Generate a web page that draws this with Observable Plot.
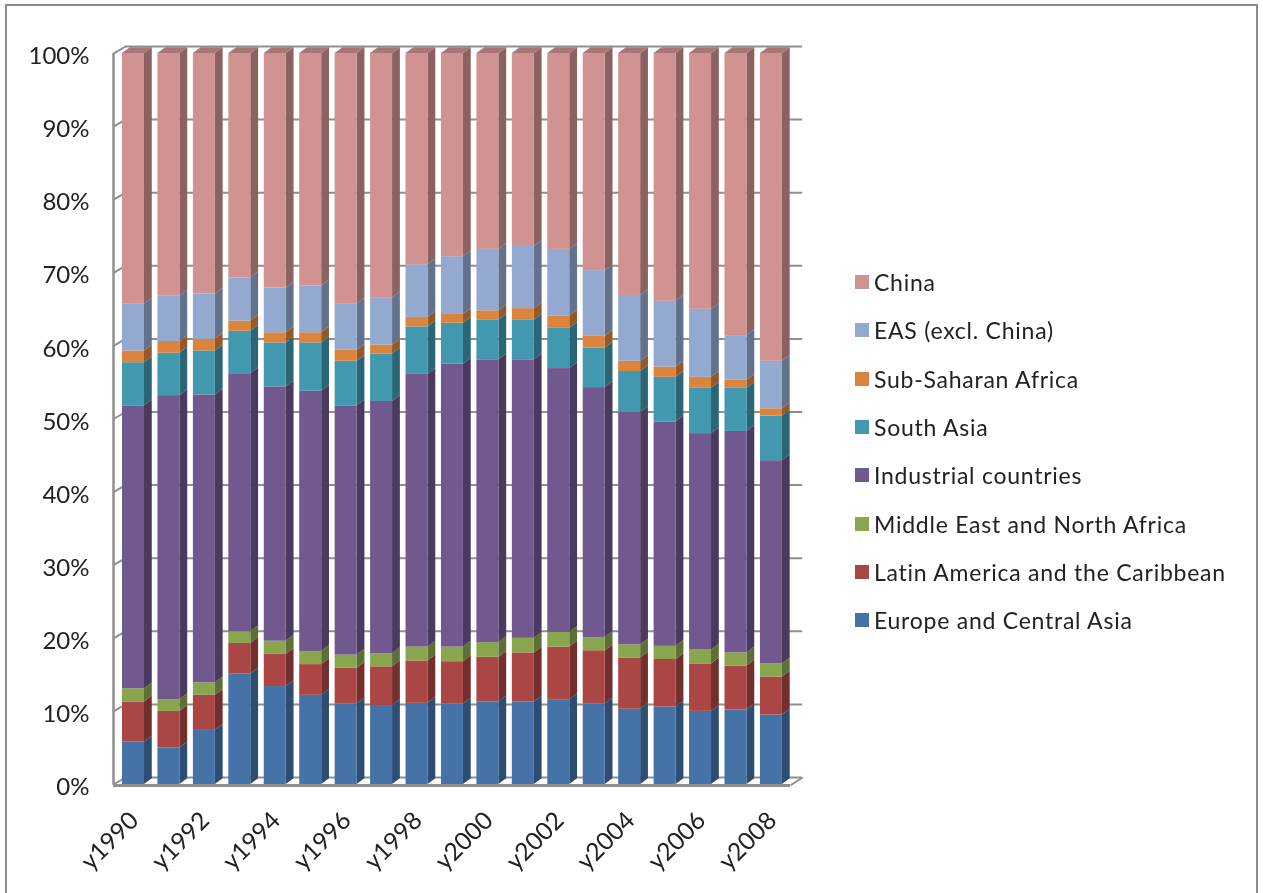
<!DOCTYPE html>
<html><head><meta charset="utf-8">
<script src="https://cdn.jsdelivr.net/npm/d3@7"></script>
<script src="https://cdn.jsdelivr.net/npm/@observablehq/plot@0.6"></script>
<style>
html,body{margin:0;padding:0;background:#fff;}
#page{position:relative;width:1263px;height:893px;overflow:hidden;font-family:Lato,sans-serif;color:#222;filter:blur(0.5px);}
#frame{position:absolute;left:5px;top:4px;width:1249px;height:920px;border:2.5px solid #8c8c8c;box-sizing:content-box;}
#chart{position:absolute;left:0;top:0;}
#chart svg{display:block;background:transparent;}
#legend{position:absolute;left:855px;top:258px;}
.row{display:flex;align-items:center;height:48.3px;font-size:23px;letter-spacing:0.75px;white-space:nowrap;}
.sw{width:14px;height:14px;margin-right:5px;flex:none;}
</style></head><body>
<div id="page"><div id="frame"></div><div id="chart"></div><div id="legend"></div></div>
<script>
const years = ["y1990","y1991","y1992","y1993","y1994","y1995","y1996","y1997","y1998","y1999","y2000","y2001","y2002","y2003","y2004","y2005","y2006","y2007","y2008"];
const yTicks = [0,10,20,30,40,50,60,70,80,90,100];
const seriesNames = ["Europe and Central Asia","Latin America and the Caribbean","Middle East and North Africa","Industrial countries","South Asia","Sub-Saharan Africa","EAS (excl. China)","China"];
const europe     = [5.8,5.0,7.4,15.1,13.4,12.2,11.0,10.8,11.1,11.0,11.3,11.3,11.6,11.0,10.3,10.6,10.0,10.2,9.5];
const latin      = [5.5,5.0,4.8,4.2,4.4,4.2,4.9,5.3,5.8,5.8,6.1,6.7,7.2,7.3,7.0,6.5,6.5,6.0,5.2];
const mena       = [1.8,1.6,1.7,1.6,1.8,1.8,1.8,1.8,1.9,2.0,2.0,2.0,2.0,1.8,1.8,1.8,1.9,1.8,1.8];
const industrial = [38.7,41.6,39.4,35.3,34.8,35.6,34.1,34.5,37.3,38.7,38.7,38.1,36.1,34.2,31.8,30.7,29.6,30.3,27.8];
const southAsia  = [5.9,5.8,6.0,5.8,6.0,6.6,6.1,6.5,6.5,5.6,5.4,5.4,5.5,5.4,5.6,6.1,6.2,5.9,6.1];
const ssa        = [1.6,1.6,1.6,1.4,1.4,1.4,1.5,1.2,1.3,1.2,1.3,1.6,1.7,1.6,1.4,1.4,1.5,1.1,1.0];
const eas        = [6.4,6.2,6.2,5.9,6.1,6.4,6.3,6.5,7.2,7.9,8.4,8.5,9.1,9.0,9.0,9.0,9.3,6.1,6.5];
const china      = [34.3,33.2,32.9,30.7,32.1,31.8,34.3,33.4,28.9,27.8,26.8,26.4,26.8,29.7,33.1,33.9,35.0,38.6,42.1];
const seriesValues = [europe,latin,mena,industrial,southAsia,ssa,eas,china];
const frontColors = ["#4572a7","#aa4643","#89a54e","#71588f","#4198af","#db843d","#93a9cf","#d19392"];
const sideColors  = ["#2e4d72","#722f2e","#5c6f35","#4b3a60","#2b6676","#945829","#63728c","#8b6261"];
const topColor = "#a87675";
const gridColor = "#8f8f8f";

const halfW = 0.31, barDx = 0.22, barDy = 0.8;   // bar width and 3-D depth in scale units
const wallDx = 0.34, wallDy = 0.96;
const xMin = -0.564, xFront = 18.54;

const marks = [];
// walls
marks.push(Plot.ruleY(yTicks,{y:d=>d+wallDy,x1:xMin+wallDx,x2:xFront+wallDx,stroke:gridColor,strokeWidth:2}));
marks.push(Plot.link(yTicks,{x1:xMin,x2:xMin+wallDx,y1:d=>d,y2:d=>d+wallDy,stroke:gridColor,strokeWidth:2}));
marks.push(Plot.ruleX([xMin],{y1:-0.1,y2:100,stroke:gridColor,strokeWidth:2.5}));
marks.push(Plot.ruleY([-0.15],{x1:xMin,x2:xFront,stroke:gridColor,strokeWidth:3}));
marks.push(Plot.link([0],{x1:xFront,x2:xFront+wallDx,y1:-0.1,y2:wallDy,stroke:gridColor,strokeWidth:2}));
// bars
const cum = years.map(()=>0);
seriesValues.forEach((vals,s)=>{
  const rows = vals.map((v,i)=>{const y1=cum[i];cum[i]+=v;return {i,y1,y2:cum[i]};});
  const side = rows.flatMap(r=>[
    {i:r.i,x:r.i+halfW,y1:r.y1,y2:r.y2},
    {i:r.i,x:r.i+halfW+barDx,y1:r.y1+barDy,y2:r.y2+barDy}]);
  marks.push(Plot.areaY(side,{x:"x",y1:"y1",y2:"y2",z:"i",fill:sideColors[s]}));
  marks.push(Plot.rect(rows,{x1:r=>r.i-halfW,x2:r=>r.i+halfW,y1:"y1",y2:"y2",fill:frontColors[s]}));
  if(s===seriesValues.length-1){
    const top = rows.flatMap(r=>[
      {i:r.i,y:r.y2,x1:r.i-halfW,x2:r.i+halfW},
      {i:r.i,y:r.y2+barDy,x1:r.i-halfW+barDx,x2:r.i+halfW+barDx}]);
    marks.push(Plot.areaX(top,{y:"y",x1:"x1",x2:"x2",z:"i",fill:topColor}));
  }
});
// axes
marks.push(Plot.axisY({ticks:yTicks,tickFormat:d=>d+"%",tickSize:0,tickPadding:24,dy:3,anchor:"left",fill:"#222",x:xMin,fontSize:24}));
marks.push(Plot.axisX({ticks:years.map((d,i)=>i).filter(i=>i%2===0),tickFormat:i=>years[i],tickRotate:-45,tickSize:0,tickPadding:32,dx:1,anchor:"bottom",fill:"#222",label:null,fontSize:24.5}));

const chart = Plot.plot({
  width:1263,height:893,
  marginLeft:113,marginRight:460,marginTop:46,marginBottom:109,
  x:{type:"linear",domain:[xMin,18.905],axis:null},
  y:{domain:[0,100.96],axis:null},
  style:{fontSize:"24px",fontFamily:"Lato, sans-serif",background:"transparent",color:"#222"},
  marks
});
document.getElementById("chart").appendChild(chart);

const legend = document.getElementById("legend");
seriesNames.map((n,i)=>i).reverse().forEach(i=>{
  const row=document.createElement("div");row.className="row";
  const sw=document.createElement("span");sw.className="sw";sw.style.background=frontColors[i];
  const t=document.createElement("span");t.textContent=seriesNames[i];
  row.append(sw,t);legend.append(row);
});
</script></body></html>
